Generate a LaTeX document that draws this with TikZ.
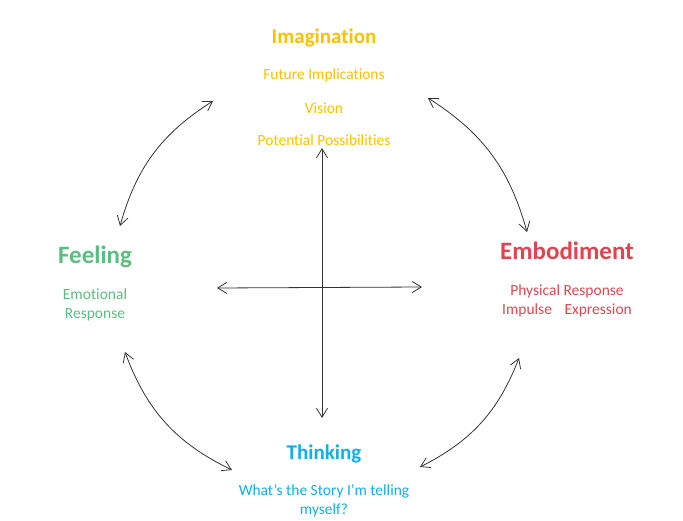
\documentclass[tikz,border=0pt]{standalone}
\usepackage{fontspec}
\setmainfont[Ligatures={NoCommon}]{Carlito}
\usetikzlibrary{arrows.meta}

\definecolor{imagcol}{HTML}{FFC000}
\definecolor{feelcol}{HTML}{5BBD80}
\definecolor{embcol}{HTML}{E0454F}
\definecolor{thinkcol}{HTML}{11AFEA}

\begin{document}
\begin{tikzpicture}[
      x=1pt, y=1pt,
      title/.style = {font=\bfseries\fontsize{21}{25}\selectfont, inner sep=0pt},
      bigtitle/.style = {font=\bfseries\fontsize{25}{30}\selectfont, inner sep=0pt},
      sub/.style = {font=\fontsize{15.5}{19.5}\selectfont, align=center, inner sep=0pt},
      link/.style = {draw=black!80, line width=0.8pt},
      >={Straight Barb[length=9pt,width=11pt]}
    ]
    \useasboundingbox (0,0) rectangle (683,520);

    % titles
    \node[title, text=imagcol]     (imag)  at (324,482) {Imagination};
    \node[bigtitle, text=feelcol]  (feel)  at (95,263)  {Feeling};
    \node[bigtitle, text=embcol]   (emb)   at (567,269) {Embodiment};
    \node[title, text=thinkcol]    (think) at (324,66)  {Thinking};

    % sub texts
    \foreach \t/\y [count=\i] in {Future Implications/445, Vision/412, Potential Possibilities/380}{
      \node[sub, text=imagcol] (imag\i) at (324,\y) {\t};
    }
    \node[sub, text=feelcol]  (feelsub)  at (95,215)  {Emotional\\Response};
    \node[sub, text=embcol]   (embsub)   at (567,219) {Physical Response\\Impulse\hspace{9pt} Expression};
    \node[sub, text=thinkcol] (thinksub) at (324,19)  {What’s the Story I’m telling\\myself?};

    % cross
    \coordinate (top)    at (322,372);
    \coordinate (bottom) at (322,102);
    \coordinate (left)   at (217,232);
    \coordinate (right)  at (422,233);
    \draw[link, <->] (top) -- (bottom);
    \draw[link, <->] (left) -- (right);

    % arcs round the cross
    \coordinate (tlA) at (213,419);
    \coordinate (tlB) at (120,294);
    \coordinate (trA) at (428,422);
    \coordinate (trB) at (527,288);
    \coordinate (blA) at (125,168);
    \coordinate (blB) at (232,50);
    \coordinate (brA) at (519,162);
    \coordinate (brB) at (420,53);

    \draw[link, <->] (tlA) to[bend right=21] (tlB);
    \draw[link, <->] (trA) to[bend left=21]  (trB);
    \draw[link, <->] (blA) to[bend right=22] (blB);
    \draw[link, <->] (brA) to[bend left=21]  (brB);
  \end{tikzpicture}
\end{document}
